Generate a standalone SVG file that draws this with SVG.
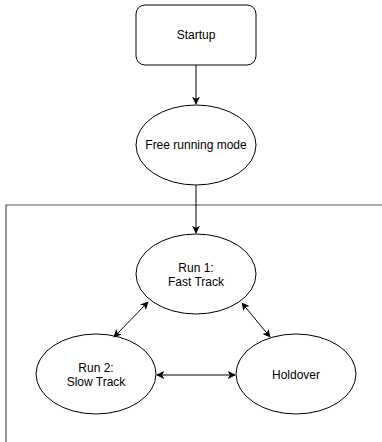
<svg xmlns="http://www.w3.org/2000/svg" width="382" height="442" viewBox="0 0 382 442">
<style>
.shape{fill:#fff;stroke:#000;stroke-width:1}
.lbl{font-family:"Liberation Sans",Arial,sans-serif;font-size:12px;fill:#000;text-anchor:middle;dominant-baseline:central}
.conn{stroke:#000;stroke-width:1;fill:none}
.frame{stroke:#555;stroke-width:1.2;fill:none}
</style>
<defs>
<marker id="ah" viewBox="0 0 10 10" refX="9" refY="5" markerWidth="8" markerHeight="8" markerUnits="userSpaceOnUse" orient="auto-start-reverse">
<path d="M0,0 L10,5 L0,10 L2.5,5 Z" fill="#000"/>
</marker>
</defs>
<path class="frame" d="M6,442 V205 H382"/>
<g id="startup"><rect class="shape" x="136" y="5" width="120" height="60" rx="9"/><text class="lbl" x="196" y="35">Startup</text></g>
<g id="free"><ellipse class="shape" cx="196" cy="145" rx="60" ry="40"/><text class="lbl" x="196" y="145">Free running mode</text></g>
<g id="run1"><ellipse class="shape" cx="196" cy="274" rx="60" ry="40"/><text class="lbl" x="196" y="268">Run 1:</text><text class="lbl" x="196" y="282">Fast Track</text></g>
<g id="run2"><ellipse class="shape" cx="96" cy="374" rx="60" ry="40"/><text class="lbl" x="96" y="368">Run 2:</text><text class="lbl" x="96" y="382">Slow Track</text></g>
<g id="holdover"><ellipse class="shape" cx="296" cy="374" rx="60" ry="40"/><text class="lbl" x="296" y="375">Holdover</text></g>
<g id="connectors">
<line class="conn" x1="196" y1="65" x2="196" y2="104" marker-end="url(#ah)"/>
<line class="conn" x1="196" y1="185" x2="196" y2="233" marker-end="url(#ah)"/>
<line class="conn" x1="148" y1="302" x2="114" y2="337" marker-start="url(#ah)" marker-end="url(#ah)"/>
<line class="conn" x1="242" y1="303" x2="270" y2="337" marker-start="url(#ah)" marker-end="url(#ah)"/>
<line class="conn" x1="157" y1="375" x2="235" y2="375" marker-start="url(#ah)" marker-end="url(#ah)"/>
</g>
</svg>
